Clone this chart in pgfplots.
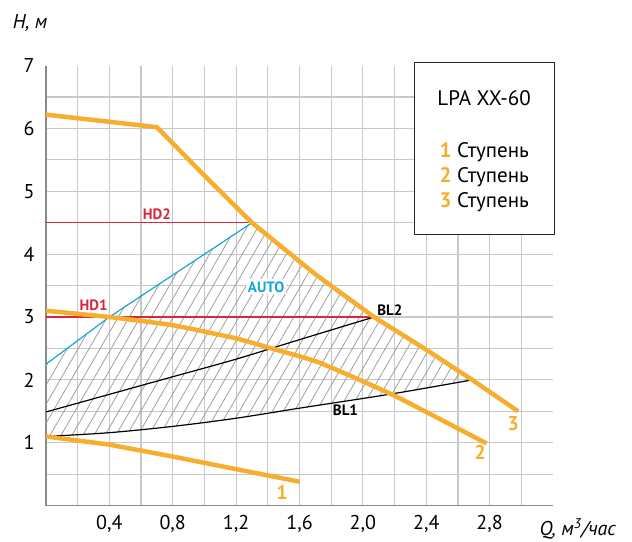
\documentclass[border=0pt]{standalone}
\usepackage{pgfplots}
\pgfplotsset{compat=1.18}
\usepackage{fontspec}
\setmainfont{PT Sans}
\usetikzlibrary{patterns.meta}
\definecolor{orng}{HTML}{F7AE2F}
\definecolor{rd}{HTML}{D7263D}
\definecolor{bl}{HTML}{15A6D9}
\definecolor{grd}{HTML}{C8C8C8}
\definecolor{axc}{HTML}{8A8A8A}
\begin{document}
\begin{tikzpicture}
\useasboundingbox (-46pt,-35.4pt) rectangle (586pt,505.6pt);
\begin{axis}[
  scale only axis, width=507pt, height=440pt,
  xmin=0, xmax=3.2, ymin=0, ymax=7,
  axis x line*=bottom, axis y line*=left,
  axis line style={axc, line width=1.4pt},
  xtick={0.4,0.8,...,2.8},
  xticklabels={{0,4},{0,8},{1,2},{1,6},{2,0},{2,4},{2,8}},
  minor xtick={0.2,0.6,...,3.0},
  ytick={1,...,6}, minor ytick={0.5,1.5,...,6.5},
  extra y ticks={7}, extra y tick style={grid=none},
  grid=both,
  major grid style={grd, line width=1.2pt},
  minor grid style={grd, line width=1.2pt},
  tick style={draw=none},
  ticklabel style={font=\fontsize{20}{24}\selectfont},
  /pgf/number format/assume math mode=true,
  xticklabel style={yshift=-6pt},
  yticklabel style={xshift=-8pt},
  clip=false,
]
% hatched zone
\addplot[draw=none, pattern={Lines[angle=60,distance=9.5pt,line width=0.8pt]}, pattern color=gray!75]
 coordinates {(0,2.25) (0.4,3.0) (1.3,4.5) (1.7,3.7) (2.07,3.0) (2.4,2.48) (2.69,2.0)
   (2.19,1.78) (1.6,1.55) (1.2,1.39) (0.8,1.26) (0.4,1.16) (0,1.1)};
% HD lines
\addplot[rd, line width=1.2pt] coordinates {(0,4.5) (1.3,4.5)};
\addplot[rd, line width=1.2pt] coordinates {(0,3.0) (2.07,3.0)};
% AUTO
\addplot[bl, line width=1.2pt] coordinates {(0,2.25) (0.4,3.0) (1.3,4.5)};
% BL1, BL2
\addplot[black, line width=1.2pt, smooth] coordinates {(0,1.1) (0.4,1.16) (0.8,1.26) (1.2,1.39) (1.6,1.55) (2.19,1.78) (2.69,2.0)};
\addplot[black, line width=1.2pt, smooth] coordinates {(0,1.49) (0.4,1.77) (0.8,2.05) (1.2,2.33) (1.6,2.64) (2.07,3.0)};
% stages
\addplot[orng, line width=4.5pt] coordinates {(0,1.1) (0.4,0.97) (0.8,0.78) (1.2,0.58) (1.6,0.38)};
\addplot[orng, line width=4.5pt, smooth, tension=0.3] coordinates {(0,3.1) (0.4,3.0) (0.8,2.87) (1.2,2.66) (1.41,2.51) (1.72,2.28) (2.19,1.76) (2.78,0.99)};
\addplot[orng, line width=4.5pt] coordinates {(0,6.22) (0.7,6.02) (1.0,5.25) (1.3,4.5) (1.7,3.68) (2.07,3.0) (2.4,2.48) (2.69,2.0) (2.98,1.5)};
% labels
\node[rd, font=\fontsize{15}{18}\selectfont\bfseries] at (axis cs:0.70,4.64) {HD2};
\node[rd, font=\fontsize{15}{18}\selectfont\bfseries] at (axis cs:0.30,3.19) {HD1};
\node[bl, fill=white, inner sep=2pt, font=\fontsize{15}{18}\selectfont\bfseries] at (axis cs:1.39,3.48) {AUTO};
\node[black, font=\fontsize{15}{18}\selectfont\bfseries] at (axis cs:2.17,3.11) {BL2};
\node[black, font=\fontsize{15}{18}\selectfont\bfseries] at (axis cs:1.89,1.52) {BL1};
\node[orng, font=\fontsize{20}{24}\selectfont\bfseries] at (axis cs:1.49,0.21) {1};
\node[orng, font=\fontsize{20}{24}\selectfont\bfseries] at (axis cs:2.74,0.84) {2};
\node[orng, font=\fontsize{20}{24}\selectfont\bfseries] at (axis cs:2.95,1.30) {3};
% legend box
\draw[black!85, line width=1.2pt, fill=white] (axis cs:2.326,7.05) rectangle (axis cs:3.21,4.31);
\node[font=\fontsize{21}{25}\selectfont] at (axis cs:2.765,6.49) {LPA XX-60};
\node[anchor=west, inner sep=0pt, font=\fontsize{21}{25}\selectfont] at (axis cs:2.483,5.63) {\textcolor{orng}{\bfseries 1} Ступень};
\node[anchor=west, inner sep=0pt, font=\fontsize{21}{25}\selectfont] at (axis cs:2.483,5.23) {\textcolor{orng}{\bfseries 2} Ступень};
\node[anchor=west, inner sep=0pt, font=\fontsize{21}{25}\selectfont] at (axis cs:2.483,4.82) {\textcolor{orng}{\bfseries 3} Ступень};
% axis titles
\node[anchor=west, inner sep=0pt, font=\fontsize{20}{24}\selectfont\itshape] at (axis cs:-0.21,7.68) {H, м};
\node[anchor=west, inner sep=0pt, font=\fontsize{20}{24}\selectfont\itshape] at (axis cs:3.115,-0.37) {Q, м\textsuperscript{3}/час};
\end{axis}
\end{tikzpicture}
\end{document}
